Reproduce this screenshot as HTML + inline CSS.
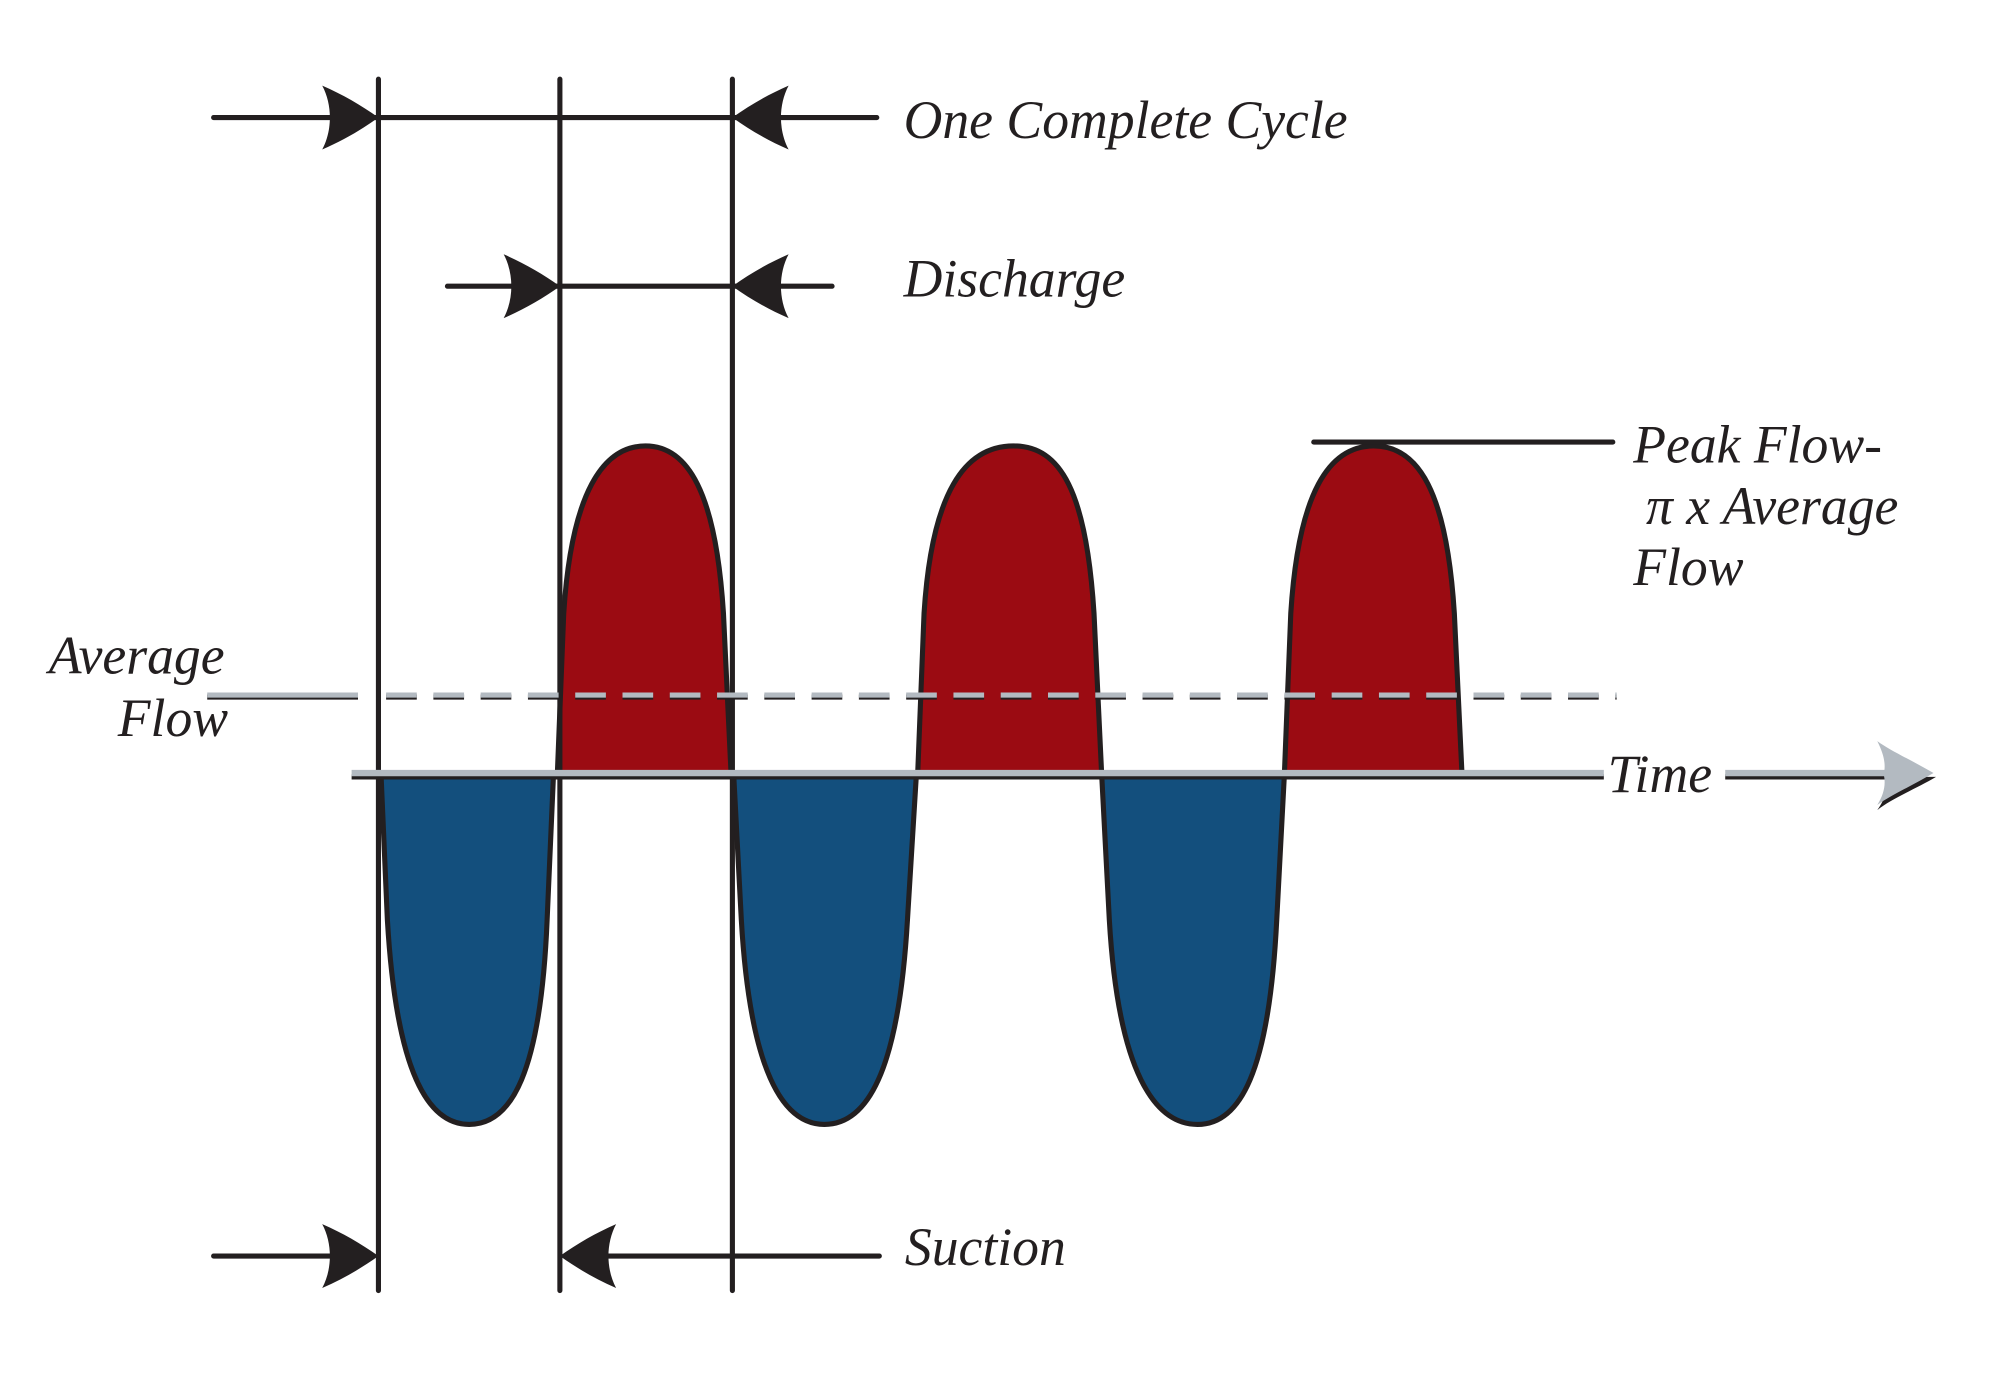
<!DOCTYPE html>
<html><head><meta charset="utf-8"><style>html,body{margin:0;padding:0;background:#fff}svg{display:block}text{font-family:"Liberation Serif",serif;font-style:italic;fill:#231f20;font-size:42px}</style></head>
<body>
<svg width="2004" height="1380" viewBox="0 0 1568 1080" xmlns="http://www.w3.org/2000/svg">
<defs>
<path id="ar" d="M0,0 C-14,-10 -28,-18 -44,-25 C-36,-10 -36,10 -44,25 C-28,18 -14,10 0,0 Z" fill="#231f20"/>
</defs>
<g fill="#9b0b12" stroke="#231f20" stroke-width="4" stroke-linejoin="round">
<path d="M436,606 L441,480 C447,385 472,349 505,349 C538,349 560,385 566,480 L572,606 Z"/>
<path d="M718,606 L723,480 C729,385 755,349 793,349 C830,349 850,385 856,480 L862,606 Z"/>
<path d="M1005,606 L1010,480 C1016,385 1040,349 1075,349 C1110,349 1132,385 1138,480 L1144,606 Z"/>
</g>
<g fill="#134f7d" stroke="#231f20" stroke-width="4" stroke-linejoin="round">
<path d="M298,606 L303,720 C310,840 335,880 367,880 C400,880 423,840 428,720 L433,606 Z"/>
<path d="M574,606 L580,720 C587,840 613,880 645,880 C678,880 703,840 710,720 L717,606 Z"/>
<path d="M862,606 L868,720 C875,840 904,880 937,880 C970,880 993,840 999,720 L1005,606 Z"/>
</g>
<g stroke="#231f20" stroke-width="4" stroke-linecap="round">
<line x1="296" y1="62" x2="296" y2="1010"/>
<line x1="438" y1="62" x2="438" y2="1010"/>
<line x1="573" y1="62" x2="573" y2="1010"/>
<line x1="167" y1="92" x2="686" y2="92"/>
<line x1="350" y1="224" x2="651" y2="224"/>
<line x1="167" y1="983" x2="290" y2="983"/>
<line x1="444" y1="983" x2="688" y2="983"/>
<line x1="1028" y1="346" x2="1262" y2="346"/>
</g>
<use href="#ar" transform="translate(296,92)"/>
<use href="#ar" transform="translate(573,92) scale(-1,1)"/>
<use href="#ar" transform="translate(438,224)"/>
<use href="#ar" transform="translate(573,224) scale(-1,1)"/>
<use href="#ar" transform="translate(296,983)"/>
<use href="#ar" transform="translate(438,983) scale(-1,1)"/>
<line x1="162" y1="545.5" x2="280" y2="545.5" stroke="#231f20" stroke-width="4"/>
<line x1="162" y1="544" x2="280" y2="544" stroke="#b3bac1" stroke-width="4"/>
<line x1="302" y1="545.5" x2="1265" y2="545.5" stroke="#231f20" stroke-width="4" stroke-dasharray="24,13"/>
<line x1="302" y1="544" x2="1265" y2="544" stroke="#b3bac1" stroke-width="4" stroke-dasharray="24,13"/>
<line x1="275" y1="608" x2="1255" y2="608" stroke="#231f20" stroke-width="4"/>
<line x1="275" y1="605" x2="1255" y2="605" stroke="#b3bac1" stroke-width="5"/>
<line x1="1350" y1="608" x2="1480" y2="608" stroke="#231f20" stroke-width="4"/>
<line x1="1350" y1="605" x2="1480" y2="605" stroke="#b3bac1" stroke-width="5"/>
<path d="M1515,608 C1500,617 1480,625 1469,634 C1475,625 1478,618 1476,608 Z" fill="#231f20"/>
<path d="M1513,605 C1498,596 1480,588 1469,580 C1474,590 1476,598 1474,606 C1476,614 1474,622 1469,630 C1480,622 1498,614 1513,605 Z" fill="#b3bac1"/>
<text x="707" y="108">One Complete Cycle</text>
<text x="707" y="232">Discharge</text>
<text x="708" y="990">Suction</text>
<text x="1278" y="362">Peak Flow-</text>
<text x="1288" y="410">π x Average</text>
<text x="1278" y="458">Flow</text>
<text x="38" y="527">Average</text>
<text x="92" y="576">Flow</text>
<text x="1258" y="620">Time</text>
</svg>
</body></html>
